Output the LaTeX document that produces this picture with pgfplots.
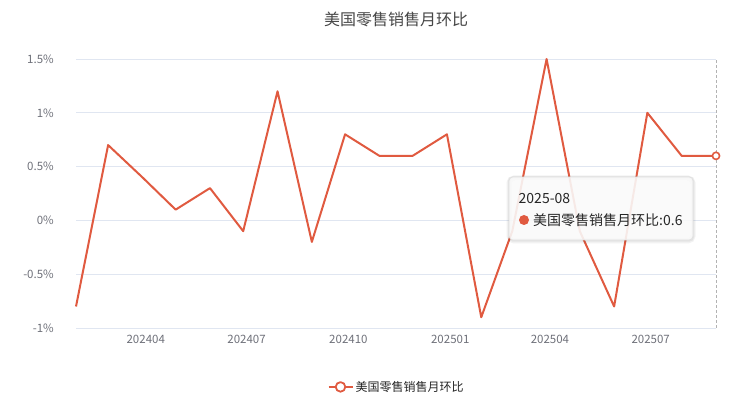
\documentclass[border=0pt]{standalone}
\usepackage{pgfplots}
\pgfplotsset{compat=1.18}
\usepackage{fontspec}
\setmainfont{Noto Sans CJK SC}
\definecolor{lineC}{HTML}{E05A40}
\definecolor{gridC}{HTML}{E0E6F1}
\definecolor{tickC}{HTML}{6E7079}
\definecolor{titleC}{HTML}{464646}
\definecolor{legC}{HTML}{333333}
\begin{document}
\begin{tikzpicture}[x=1pt,y=1pt]
\path[use as bounding box] (0,0) rectangle (750,404);
\begin{axis}[
  at={(76pt,76pt)}, anchor=south west,
  scale only axis, width=640pt, height=269pt,
  xmin=0, xmax=578, ymin=-1, ymax=1.5,
  axis x line=bottom, axis y line=left,
  axis line style={draw=none},
  major tick length=0pt,
  ytick={-1,-0.5,0,0.5,1,1.5},
  yticklabels={-1\%,-0.5\%,0\%,0.5\%,1\%,1.5\%},
  xtick={63,154,246,338,428,519},
  xticklabels={202404,202407,202410,202501,202504,202507},
  ymajorgrids,
  grid style={gridC, line width=0.9pt},
  tick label style={font=\fontsize{11.5}{13}\selectfont, text=tickC},
  yticklabel style={anchor=east, inner sep=0pt, xshift=-22pt},
  xticklabel style={anchor=north, inner sep=0pt, yshift=-7pt},
  legend style={at={(0.5008,-0.219)}, anchor=center, draw=none, fill=none,
    font=\fontsize{12}{14}\selectfont, text=black!85},
  clip=false,
]
\addplot[forget plot, densely dashed, color=black!30, line width=0.8pt] coordinates {(578,-1) (578,1.5)};
\addplot[lineC, line width=2pt, line join=round, mark=none,
  legend image code/.code={
    \draw[lineC, line width=2pt] (0pt,0pt) -- (24pt,0pt);
    \draw[lineC, fill=white, line width=1.8pt] (12pt,0pt) circle (4.8pt);}]
coordinates {
(0,-0.8)(29,0.7)(60,0.4)(90,0.1)(121,0.3)(151,-0.1)(182,1.2)(213,-0.2)
(243,0.8)(274,0.6)(304,0.6)(335,0.8)(366,-0.9)(394,-0.1)(425,1.5)(455,-0.1)
(486,-0.8)(516,1.0)(547,0.6)(578,0.6)};
\addlegendentry{美国零售销售月环比}
\addplot[forget plot, only marks, mark=*, mark size=3.6pt,
  mark options={fill=white, draw=lineC, line width=1.6pt}] coordinates {(578,0.6)};
\end{axis}
% title
\node[font=\fontsize{16}{18}\selectfont, text=titleC] at (396,384.5) {美国零售销售月环比};
% tooltip shadow (border only)
\draw[black, opacity=0.05, line width=5pt, rounded corners=5pt] (509,163) rectangle (693,226);
\draw[black, opacity=0.06, line width=2.5pt, rounded corners=4pt] (509,163.5) rectangle (693,226.5);
% tooltip
\filldraw[fill=white!97.5!black, fill opacity=0.9, draw=black!12, line width=0.6pt,
  rounded corners=4pt]
  (509,164) rectangle (693,227);
\node[anchor=west, inner sep=0pt, font=\fontsize{14}{16}\selectfont, text=black!85] at (518.5,205.5) {2025-08};
\fill[lineC] (524,184) circle (5);
\node[anchor=west, inner sep=0pt, font=\fontsize{14}{16}\selectfont, text=black!85] at (533,184) {美国零售销售月环比:0.6};
\end{tikzpicture}
\end{document}
